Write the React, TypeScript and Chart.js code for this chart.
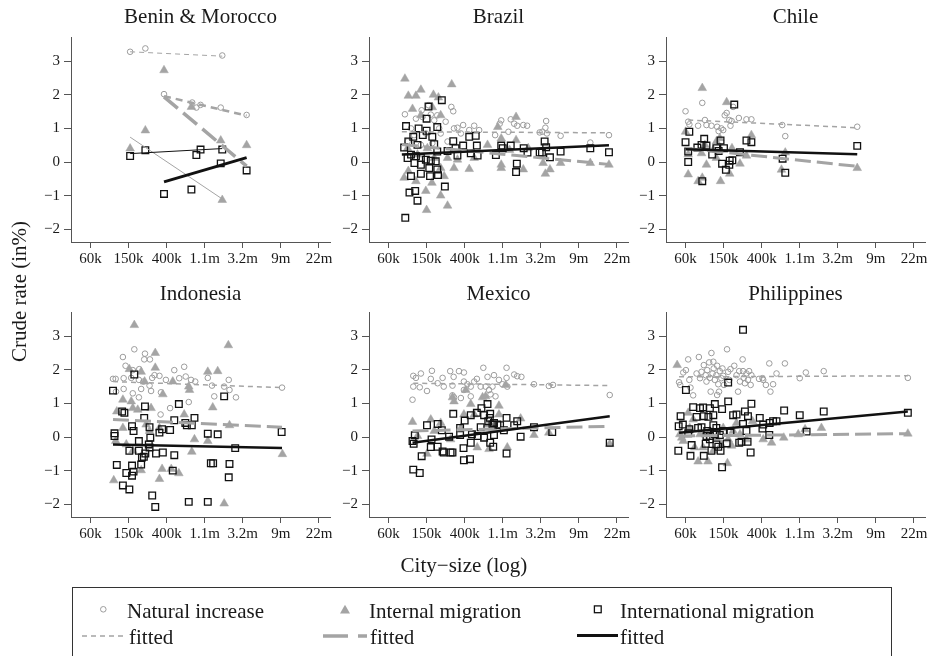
import React, { useEffect, useRef } from "react";
import { Chart, registerables } from "chart.js";
Chart.register(...registerables);

type P = [number, number];

// ---- axes ----
const xTickValues = [11, 12, 13, 14, 15, 16, 17];
const xTickLabels = ["60k", "150k", "400k", "1.1m", "3.2m", "9m", "22m"];
const yTickValues = [-2, -1, 0, 1, 2, 3];
const xRange = [10.487, 17.29];
const yRange = [-2.38, 3.72];

// ---- Benin & Morocco ----
const beninNatural: P[] = [[12.04, 3.28], [12.44, 3.38], [14.46, 3.17]];
const beninInternal: P[] = [[12.04, 0.40], [12.44, 0.94], [14.46, -1.13]];
const beninInternational: P[] = [[12.04, 0.18], [12.44, 0.35], [14.46, 0.37]];
const beninNaturalFit: P[] = [[12.04, 3.28], [14.46, 3.15]];
const beninInternalFit: P[] = [[12.04, 0.74], [14.46, -1.10]];
const beninInternationalFit: P[] = [[12.04, 0.25], [14.46, 0.40]];
const moroccoNatural: P[] = [[12.93, 2.02], [13.67, 1.77], [13.78, 1.62], [13.89, 1.70], [14.42, 1.62], [15.10, 1.40]];
const moroccoInternal: P[] = [[12.93, 2.73], [13.65, 1.64], [14.42, 0.64], [15.10, 0.50]];
const moroccoInternational: P[] = [[12.93, -0.95], [13.65, -0.82], [13.78, 0.21], [13.89, 0.37], [14.42, -0.04], [15.10, -0.25]];
const moroccoNaturalFit: P[] = [[12.93, 1.96], [15.10, 1.38]];
const moroccoInternalFit: P[] = [[12.93, 1.94], [15.10, -0.12]];
const moroccoInternationalFit: P[] = [[12.93, -0.59], [15.10, 0.13]];

// ---- Brazil ----
const brazilNatural: P[] = [[11.43, 1.42], [11.87, 1.54], [12.05, 1.69], [12.28, 1.39], [12.65, 1.64], [12.70, 1.51], [12.50, 1.20], [12.81, 1.02], [12.96, 1.10], [13.25, 1.08], [13.38, 0.95], [13.80, 0.80], [13.92, 1.14], [13.96, 1.24], [14.21, 1.27], [14.30, 1.14], [14.15, 0.90], [14.38, 1.08], [14.54, 1.10], [14.64, 1.08], [14.97, 0.88], [15.04, 0.90], [15.12, 1.02], [15.14, 1.22], [15.16, 0.85], [15.52, 0.78], [16.30, 0.58], [16.79, 0.80], [11.59, 1.00], [11.72, 1.29], [11.89, 1.34], [12.20, 1.24], [12.33, 1.00], [12.37, 0.85], [11.67, 0.80], [12.15, 0.56], [12.55, 0.61], [11.98, 0.85], [11.50, 0.61], [11.85, 0.51], [12.72, 1.00], [12.90, 0.85], [13.12, 0.95], [12.11, 1.41]];
const brazilInternal: P[] = [[11.43, 2.48], [11.52, 1.97], [11.72, 1.97], [11.85, 2.15], [12.18, 2.00], [12.31, 1.92], [12.66, 2.31], [11.63, 1.58], [11.85, 1.39], [12.37, 1.39], [12.15, 1.63], [11.41, -0.47], [11.52, -0.27], [11.72, -0.57], [11.98, -0.86], [12.00, -1.43], [12.37, -1.00], [12.55, -1.30], [12.14, -0.62], [12.46, -0.42], [12.72, -0.18], [13.12, -0.21], [12.81, 0.07], [13.25, 0.12], [13.87, 1.04], [13.96, -0.08], [13.96, -0.18], [14.35, 1.34], [14.35, 0.65], [14.54, -0.22], [14.67, 0.41], [15.06, -0.03], [15.12, -0.35], [15.24, -0.22], [15.52, -0.03], [16.30, -0.03], [16.79, -0.08], [11.50, 0.41], [11.76, 0.22], [12.02, 0.41], [12.20, 0.12], [12.55, 0.12], [12.37, -0.18], [13.96, 0.70], [13.60, 0.51], [14.18, 0.36]];
const brazilInternational: P[] = [[11.44, -1.66], [11.46, 1.07], [11.79, 1.00], [12.05, 1.65], [12.00, 1.29], [12.28, 1.04], [12.40, 1.84], [12.00, 0.93], [11.41, 0.43], [11.52, 0.61], [11.65, 0.75], [11.90, 0.80], [12.15, 0.75], [12.20, 0.53], [11.76, 0.51], [11.59, 0.22], [11.72, 0.17], [11.85, 0.12], [11.98, 0.07], [12.11, 0.04], [12.24, 0.02], [11.50, 0.12], [11.68, -0.03], [11.85, -0.08], [12.07, -0.18], [12.28, -0.22], [11.59, -0.42], [11.85, -0.35], [12.09, -0.42], [12.30, -0.39], [11.55, -0.91], [11.70, -0.86], [11.76, -1.15], [12.48, -0.73], [12.28, 0.31], [12.55, 0.33], [12.70, 0.62], [12.76, 0.41], [12.81, 0.19], [12.96, 0.49], [13.12, 0.75], [13.29, 0.78], [13.32, 0.49], [13.34, 0.19], [13.16, 0.26], [13.82, 0.21], [13.96, 0.49], [14.00, 0.41], [14.21, 0.49], [14.37, -0.05], [14.35, -0.30], [14.55, 0.41], [14.65, 0.28], [14.97, 0.28], [15.03, 0.28], [15.10, 0.61], [15.14, 0.44], [15.24, 0.14], [15.52, 0.31], [16.30, 0.41], [16.79, 0.29]];
const brazilNaturalFit: P[] = [[11.35, 0.90], [16.79, 0.87]];
const brazilInternalFit: P[] = [[11.35, 0.52], [16.79, -0.07]];
const brazilInternationalFit: P[] = [[11.35, 0.22], [16.79, 0.50]];

// ---- Chile ----
const chileNatural: P[] = [[11.00, 1.51], [11.07, 1.20], [11.10, 1.12], [11.44, 1.76], [11.33, 1.08], [11.51, 1.25], [11.55, 1.10], [11.68, 1.08], [11.83, 1.05], [11.87, 0.92], [11.94, 1.00], [11.99, 0.95], [12.03, 1.39], [12.08, 1.46], [12.15, 1.25], [12.21, 1.22], [12.25, 1.64], [12.40, 1.31], [12.60, 1.27], [12.73, 1.27], [13.54, 1.10], [13.62, 0.77], [15.51, 1.05], [12.18, 1.08]];
const chileInternal: P[] = [[11.44, 2.20], [12.08, 1.78], [11.00, 0.90], [11.07, -0.37], [11.33, -0.57], [11.44, -0.47], [11.55, -0.08], [11.51, 0.51], [11.07, 0.22], [11.42, 0.26], [11.73, 0.36], [11.81, 0.12], [11.92, -0.57], [12.16, -0.35], [12.22, 0.41], [12.43, -0.05], [12.60, 0.19], [12.73, 0.80], [13.52, -0.23], [13.62, 0.28], [15.51, -0.18], [11.81, 0.61], [11.90, 0.71]];
const chileInternational: P[] = [[11.00, 0.59], [11.10, 0.90], [11.07, 0.00], [11.07, 0.31], [11.31, 0.43], [11.44, -0.57], [11.49, 0.69], [11.55, 0.49], [11.42, 0.51], [11.70, 0.22], [11.81, 0.41], [11.92, 0.64], [11.87, 0.33], [12.01, 0.41], [11.96, -0.05], [12.06, -0.23], [12.15, -0.08], [12.16, 0.04], [12.23, 0.05], [12.28, 1.71], [12.43, 0.29], [12.60, 0.64], [12.73, 0.59], [13.55, 0.10], [13.62, -0.32], [15.51, 0.48]];
const chileNaturalFit: P[] = [[11.07, 1.25], [15.51, 1.02]];
const chileInternalFit: P[] = [[11.00, 0.41], [15.51, -0.13]];
const chileInternationalFit: P[] = [[11.00, 0.38], [15.51, 0.23]];

// ---- Indonesia ----
const indonesiaNatural: P[] = [[11.85, 2.38], [12.15, 2.61], [12.43, 2.48], [12.41, 2.31], [12.56, 2.31], [11.92, 2.12], [12.11, 1.99], [12.28, 2.02], [13.20, 1.99], [13.46, 2.09], [11.59, 1.73], [11.66, 1.73], [11.87, 1.75], [12.07, 1.76], [12.27, 1.70], [12.39, 1.65], [12.62, 1.76], [12.68, 1.84], [12.81, 1.82], [12.98, 1.70], [13.33, 1.75], [13.50, 1.80], [13.64, 1.70], [13.75, 1.65], [11.87, 1.43], [12.11, 1.30], [12.33, 1.43], [12.55, 1.53], [12.59, 1.37], [12.85, 1.33], [11.67, 1.35], [12.27, 1.18], [13.09, 0.86], [13.58, 1.04], [12.84, 0.67], [14.08, 1.76], [14.19, 1.53], [14.25, 1.21], [14.63, 1.70], [14.65, 1.40], [14.82, 1.18], [14.51, 1.50], [16.03, 1.47]];
const indonesiaInternal: P[] = [[12.15, 3.33], [12.70, 2.50], [14.62, 2.73], [12.70, 2.06], [12.02, 2.02], [12.33, 1.94], [14.08, 1.94], [14.34, 1.96], [12.42, 1.65], [13.16, 1.65], [13.58, 1.50], [13.60, 1.40], [12.90, 1.27], [11.85, 1.11], [12.07, 1.06], [12.11, 0.86], [11.69, 0.76], [12.24, 0.81], [12.59, 0.86], [14.21, 0.88], [13.46, 0.67], [12.46, 0.37], [11.85, 0.27], [12.81, 0.27], [13.73, -0.07], [14.08, -0.12], [14.65, 0.35], [16.04, -0.51], [13.66, -0.44], [12.88, -0.95], [13.12, -0.95], [13.32, -1.08], [12.81, -1.25], [12.33, -0.99], [11.61, -1.29], [14.51, -1.98], [11.66, -0.12], [11.94, -0.22], [12.11, -0.41], [12.55, 0.18]];
const indonesiaInternational: P[] = [[12.15, 1.86], [11.59, 1.38], [11.83, 0.76], [11.89, 0.72], [12.43, 0.91], [12.41, 0.57], [13.32, 0.98], [13.20, 0.50], [13.49, 0.42], [13.53, 0.35], [13.73, 0.57], [13.66, 0.35], [14.51, 1.21], [12.09, 0.32], [12.13, 0.18], [12.55, 0.29], [12.88, 0.23], [13.09, 0.21], [12.81, 0.13], [12.57, -0.02], [11.63, 0.11], [11.63, 0.03], [14.08, 0.10], [14.34, 0.08], [16.02, 0.15], [12.27, -0.12], [12.02, -0.41], [12.27, -0.41], [12.44, -0.49], [12.72, -0.49], [12.90, -0.46], [13.20, -0.54], [12.35, -0.61], [12.40, -0.59], [14.80, -0.33], [11.69, -0.83], [12.09, -0.85], [12.33, -0.82], [11.94, -1.07], [12.09, -1.15], [12.13, -1.03], [13.16, -1.00], [14.16, -0.78], [14.22, -0.78], [14.65, -0.80], [14.63, -1.20], [11.85, -1.44], [12.02, -1.56], [12.62, -1.74], [12.70, -2.08], [13.58, -1.93], [14.08, -1.93], [12.53, -0.22], [12.55, -0.31]];
const indonesiaNaturalFit: P[] = [[11.59, 1.65], [16.03, 1.47]];
const indonesiaInternalFit: P[] = [[11.59, 0.52], [16.03, 0.29]];
const indonesiaInternationalFit: P[] = [[11.59, -0.22], [16.03, -0.33]];

// ---- Mexico ----
const mexicoNatural: P[] = [[11.63, 1.11], [11.65, 1.50], [11.65, 1.82], [11.72, 1.76], [11.85, 1.89], [11.82, 1.48], [12.01, 1.37], [12.11, 1.73], [12.14, 1.97], [12.29, 1.60], [12.42, 1.76], [12.45, 1.50], [12.62, 1.96], [12.68, 1.53], [12.71, 1.79], [12.68, 1.24], [12.72, 1.18], [12.85, 1.96], [12.90, 1.16], [12.98, 1.92], [12.98, 1.65], [12.98, 1.40], [13.07, 1.57], [13.16, 1.50], [13.16, 1.21], [13.25, 1.65], [13.32, 1.73], [13.42, 1.50], [13.49, 2.06], [13.60, 1.79], [13.55, 1.50], [13.64, 1.40], [13.73, 1.50], [13.68, 1.27], [13.77, 1.84], [13.81, 1.21], [13.90, 1.70], [14.10, 2.06], [14.10, 1.76], [14.30, 1.86], [14.38, 1.81], [14.49, 1.79], [14.82, 1.57], [15.21, 1.52], [15.32, 1.55], [16.81, 1.25], [13.99, 1.57], [14.12, 1.50]];
const mexicoInternal: P[] = [[11.63, 0.45], [12.01, -0.50], [12.11, 0.52], [12.37, 0.42], [12.68, 1.18], [12.72, 1.06], [13.03, 1.40], [13.16, 0.98], [13.25, 0.67], [13.47, 1.18], [13.55, 1.21], [13.90, 0.93], [13.90, 0.67], [12.98, 0.67], [14.08, 1.55], [13.60, 0.37], [14.12, -0.31], [14.47, 0.55], [14.82, 0.06], [15.21, 0.13], [16.81, -0.21], [13.33, -0.31], [13.64, -0.36], [12.63, -0.07], [11.76, 0.03], [12.20, 0.18], [12.90, 0.27], [13.73, 0.27]];
const mexicoInternational: P[] = [[11.65, -0.97], [11.82, -1.07], [11.87, -0.57], [12.01, 0.35], [11.63, -0.12], [11.69, 0.05], [11.66, -0.20], [12.13, -0.07], [12.11, -0.30], [12.29, 0.39], [12.29, -0.29], [12.40, 0.20], [12.45, -0.46], [12.59, 0.01], [12.68, -0.46], [12.70, 0.69], [12.88, 0.27], [12.88, 0.06], [12.97, -0.33], [12.98, -0.69], [13.00, 0.49], [13.14, -0.66], [13.16, 0.65], [13.16, -0.17], [13.19, 0.08], [13.32, 0.72], [13.34, 0.03], [13.42, 0.29], [13.44, 0.86], [13.51, 0.65], [13.51, -0.02], [13.60, 0.98], [13.62, 0.47], [13.66, 0.57], [13.67, 0.69], [13.67, -0.17], [13.73, 0.37], [13.75, -0.29], [13.77, 0.42], [13.77, 0.06], [13.86, 0.37], [13.93, 0.35], [14.03, 0.20], [14.10, 0.57], [14.10, -0.49], [14.30, 0.35], [14.38, 0.47], [14.47, 0.01], [14.82, 0.29], [15.30, 0.15], [16.81, -0.17], [12.42, -0.43], [12.63, -0.46]];
const mexicoNaturalFit: P[] = [[11.65, 1.60], [16.81, 1.53]];
const mexicoInternalFit: P[] = [[11.63, 0.18], [16.81, 0.32]];
const mexicoInternationalFit: P[] = [[11.63, -0.17], [16.81, 0.62]];

// ---- Philippines ----
const philippinesNatural: P[] = [[10.83, 1.63], [10.86, 1.55], [10.94, 1.92], [11.01, 1.99], [11.07, 2.31], [11.10, 1.70], [11.13, 1.47], [11.20, 1.24], [11.29, 1.89], [11.35, 2.38], [11.42, 1.94], [11.48, 2.14], [11.53, 1.84], [11.57, 1.99], [11.62, 2.22], [11.68, 2.50], [11.64, 1.76], [11.71, 1.89], [11.73, 2.24], [11.74, 2.04], [11.77, 1.70], [11.81, 1.84], [11.83, 2.12], [11.86, 1.57], [11.88, 1.35], [11.90, 1.96], [11.94, 1.75], [11.97, 2.04], [11.99, 1.82], [12.01, 1.55], [12.09, 2.61], [12.12, 1.94], [12.15, 1.70], [12.18, 2.02], [12.28, 2.12], [12.34, 1.84], [12.38, 1.35], [12.41, 1.96], [12.43, 1.65], [12.50, 2.31], [12.51, 1.96], [12.53, 1.76], [12.56, 1.60], [12.60, 1.89], [12.64, 1.70], [12.67, 1.96], [12.71, 1.55], [12.73, 1.84], [12.93, 1.73], [13.02, 1.75], [13.04, 1.70], [13.11, 1.55], [13.20, 2.19], [13.23, 1.35], [13.30, 1.57], [13.39, 1.89], [13.61, 2.19], [14.00, 1.75], [14.16, 1.92], [14.63, 1.96], [16.84, 1.76], [11.66, 1.35], [11.83, 1.25], [11.38, 1.75], [11.55, 1.65]];
const philippinesInternal: P[] = [[10.78, 2.14], [11.07, 0.72], [10.85, 0.08], [10.94, -0.12], [11.11, 0.27], [11.24, -0.31], [11.33, -0.73], [11.59, -0.73], [11.46, -0.31], [11.73, -0.41], [11.94, -0.22], [12.10, -0.78], [12.12, -0.07], [12.21, -0.26], [12.34, 0.42], [12.43, 0.08], [12.60, -0.07], [12.76, 0.47], [13.04, -0.07], [13.26, -0.17], [13.58, -0.02], [13.96, 0.08], [14.14, 0.23], [14.57, 0.27], [16.84, 0.10], [11.38, 0.08], [11.64, 0.18], [11.81, -0.02], [11.99, 0.27], [12.25, 0.18], [11.20, 0.52], [10.90, -0.02]];
const philippinesInternational: P[] = [[12.51, 3.19], [11.01, 1.40], [12.12, 1.62], [12.12, 1.06], [12.73, 0.99], [11.20, 0.89], [10.87, 0.62], [10.81, -0.41], [11.13, -0.56], [11.29, 0.60], [11.38, 0.86], [11.46, 0.88], [11.64, 0.86], [11.77, 0.98], [11.96, 0.83], [11.48, 0.62], [11.60, 0.60], [11.73, 0.65], [10.82, 0.32], [10.93, 0.37], [11.07, 0.11], [11.10, 0.23], [11.16, -0.24], [11.33, 0.27], [11.42, 0.29], [11.48, -0.56], [11.53, -0.20], [11.57, 0.18], [11.64, 0.03], [11.68, -0.41], [11.73, 0.35], [11.77, 0.08], [11.81, -0.22], [11.86, -0.29], [11.90, 0.06], [11.92, -0.41], [11.96, -0.90], [11.99, 0.18], [12.08, -0.19], [12.18, 0.13], [12.25, 0.65], [12.34, 0.67], [12.41, -0.17], [12.47, -0.14], [12.51, 0.39], [12.56, 0.76], [12.60, 0.18], [12.63, -0.14], [12.64, 0.62], [12.71, -0.46], [12.95, 0.57], [13.02, 0.25], [13.04, 0.37], [13.20, 0.06], [13.21, 0.42], [13.30, 0.47], [13.39, 0.47], [13.59, 0.79], [14.00, 0.65], [14.18, 0.16], [14.63, 0.76], [16.84, 0.72], [11.55, 0.03], [11.64, -0.07], [11.81, 0.27]];
const philippinesNaturalFit: P[] = [[10.83, 1.79], [16.84, 1.82]];
const philippinesInternalFit: P[] = [[10.83, 0.03], [16.84, 0.10]];
const philippinesInternationalFit: P[] = [[10.83, 0.13], [16.84, 0.76]];

// ---- styles ----
const FONT = "'Liberation Serif', 'Times New Roman', Times, serif";
const GRAY = "#a4a4a4";
const CIRCLE_GRAY = "#9c9c9c";
const BLACK = "#111111";
const AXIS = "#555555";
const TEXT = "#1a1a1a";

type Kind = "natural" | "internal" | "international";
interface Fit { data: P[]; kind: Kind; width: number; dash: number[]; }
interface PanelCfg { title: string; natural: P[]; internal: P[]; international: P[]; fits: Fit[]; left: number; top: number; }

const natDash = [5, 4];
const intDash = [16, 6];

const panels: PanelCfg[] = [
  {
    title: "Benin & Morocco",
    natural: [...beninNatural, ...moroccoNatural],
    internal: [...beninInternal, ...moroccoInternal],
    international: [...beninInternational, ...moroccoInternational],
    fits: [
      { data: beninNaturalFit, kind: "natural", width: 1, dash: [5, 4] },
      { data: beninInternalFit, kind: "internal", width: 1, dash: [] },
      { data: beninInternationalFit, kind: "international", width: 1, dash: [] },
      { data: moroccoNaturalFit, kind: "natural", width: 2.5, dash: [7, 5] },
      { data: moroccoInternalFit, kind: "internal", width: 3.5, dash: [18, 7] },
      { data: moroccoInternationalFit, kind: "international", width: 3, dash: [] },
    ],
    left: 71, top: 34,
  },
  {
    title: "Brazil", natural: brazilNatural, internal: brazilInternal, international: brazilInternational,
    fits: [
      { data: brazilNaturalFit, kind: "natural", width: 1.5, dash: natDash },
      { data: brazilInternalFit, kind: "internal", width: 3, dash: intDash },
      { data: brazilInternationalFit, kind: "international", width: 2.5, dash: [] },
    ],
    left: 369, top: 34,
  },
  {
    title: "Chile", natural: chileNatural, internal: chileInternal, international: chileInternational,
    fits: [
      { data: chileNaturalFit, kind: "natural", width: 1.5, dash: natDash },
      { data: chileInternalFit, kind: "internal", width: 3, dash: intDash },
      { data: chileInternationalFit, kind: "international", width: 2.5, dash: [] },
    ],
    left: 666, top: 34,
  },
  {
    title: "Indonesia", natural: indonesiaNatural, internal: indonesiaInternal, international: indonesiaInternational,
    fits: [
      { data: indonesiaNaturalFit, kind: "natural", width: 1.5, dash: natDash },
      { data: indonesiaInternalFit, kind: "internal", width: 3, dash: intDash },
      { data: indonesiaInternationalFit, kind: "international", width: 2.5, dash: [] },
    ],
    left: 71, top: 309,
  },
  {
    title: "Mexico", natural: mexicoNatural, internal: mexicoInternal, international: mexicoInternational,
    fits: [
      { data: mexicoNaturalFit, kind: "natural", width: 1.5, dash: natDash },
      { data: mexicoInternalFit, kind: "internal", width: 3, dash: intDash },
      { data: mexicoInternationalFit, kind: "international", width: 2.5, dash: [] },
    ],
    left: 369, top: 309,
  },
  {
    title: "Philippines", natural: philippinesNatural, internal: philippinesInternal, international: philippinesInternational,
    fits: [
      { data: philippinesNaturalFit, kind: "natural", width: 1.5, dash: natDash },
      { data: philippinesInternalFit, kind: "internal", width: 3, dash: intDash },
      { data: philippinesInternationalFit, kind: "international", width: 2.5, dash: [] },
    ],
    left: 666, top: 309,
  },
];

const PLOT_W = 259;
const PLOT_H = 208;
const Y_AXIS_W = 62;
const X_AXIS_H = 32;
const PAD_TOP = 10;
const PAD_RIGHT = 14;

const pts = (a: P[]) => a.map(([x, y]) => ({ x, y }));
const fmtY = (v: number) => (v < 0 ? "\u2212" + Math.abs(v) : String(v));

function Panel({ cfg }: { cfg: PanelCfg }) {
  const ref = useRef<HTMLCanvasElement>(null);
  useEffect(() => {
    if (!ref.current) return;
    const fitOrder: Record<Kind, number> = { international: 1, internal: 2, natural: 3 };
    const fitColor: Record<Kind, string> = { international: BLACK, internal: GRAY, natural: GRAY };
    const datasets: any[] = [
      {
        label: "Natural increase", data: pts(cfg.natural), pointStyle: "circle", pointRadius: 2.8,
        borderColor: CIRCLE_GRAY, borderWidth: 1, backgroundColor: "rgba(255,255,255,0)", order: 6,
      },
      {
        label: "Internal migration", data: pts(cfg.internal), pointStyle: "triangle", pointRadius: 5,
        borderColor: GRAY, borderWidth: 0.5, backgroundColor: GRAY, order: 5,
      },
      {
        label: "International migration", data: pts(cfg.international), pointStyle: "rect", pointRadius: 4.7,
        borderColor: BLACK, borderWidth: 1.3, backgroundColor: "rgba(255,255,255,0)", order: 4,
      },
      ...cfg.fits.map((f) => ({
        label: "fitted", data: pts(f.data), showLine: true, pointRadius: 0, borderColor: fitColor[f.kind],
        borderWidth: f.width, borderDash: f.dash, fill: false, tension: 0, order: fitOrder[f.kind],
        borderCapStyle: "butt",
      })),
    ];
    const chart = new Chart(ref.current, {
      type: "scatter",
      data: { datasets },
      options: {
        animation: false,
        responsive: true,
        maintainAspectRatio: false,
        events: [],
        layout: { padding: { left: 0, top: PAD_TOP, right: PAD_RIGHT, bottom: 0 } },
        plugins: { legend: { display: false }, tooltip: { enabled: false }, title: { display: false } },
        scales: {
          x: {
            type: "linear",
            min: xRange[0],
            max: xRange[1],
            afterBuildTicks: (s: any) => { s.ticks = xTickValues.map((v) => ({ value: v })); },
            afterFit: (s: any) => { s.height = X_AXIS_H; },
            ticks: {
              autoSkip: false, maxRotation: 0, minRotation: 0, padding: 2, color: TEXT,
              font: { family: FONT, size: 15 },
              callback: (v: any) => xTickLabels[xTickValues.indexOf(Number(v))] ?? "",
            },
            grid: { display: true, drawOnChartArea: false, drawTicks: true, tickLength: 6, color: AXIS, lineWidth: 1 },
            border: { display: true, color: AXIS, width: 1 },
          },
          y: {
            type: "linear",
            min: yRange[0],
            max: yRange[1],
            afterBuildTicks: (s: any) => { s.ticks = yTickValues.map((v) => ({ value: v })); },
            afterFit: (s: any) => { s.width = Y_AXIS_W; },
            ticks: {
              padding: 4, color: TEXT, font: { family: FONT, size: 15 },
              callback: (v: any) => fmtY(Number(v)),
            },
            grid: { display: true, drawOnChartArea: false, drawTicks: true, tickLength: 7, color: AXIS, lineWidth: 1 },
            border: { display: true, color: AXIS, width: 1 },
          },
        },
      } as any,
    });
    return () => chart.destroy();
  }, [cfg]);
  return (
    <div
      style={{
        position: "absolute",
        left: cfg.left - Y_AXIS_W,
        top: cfg.top - PAD_TOP,
        width: Y_AXIS_W + PLOT_W + PAD_RIGHT,
        height: PAD_TOP + PLOT_H + X_AXIS_H,
      }}
    >
      <canvas ref={ref} />
    </div>
  );
}

const textStyle: React.CSSProperties = {
  position: "absolute",
  fontFamily: FONT,
  fontSize: 21,
  lineHeight: "21px",
  color: TEXT,
  whiteSpace: "nowrap",
};

export default function App() {
  return (
    <div style={{ position: "absolute", left: 0, top: 0, width: 929, height: 656, overflow: "hidden", background: "#fff" }}>
      {panels.map((p) => (
        <React.Fragment key={p.title}>
          <Panel cfg={p} />
          <div style={{ ...textStyle, left: p.left, width: PLOT_W, textAlign: "center", top: p.top === 34 ? 5.5 : 282.5 }}>
            {p.title}
          </div>
        </React.Fragment>
      ))}
      <div style={{ ...textStyle, left: 364, width: 200, textAlign: "center", top: 554.5 }}>City{"\u2212"}size (log)</div>
      <div
        style={{
          ...textStyle, left: 19 - 100, width: 200, textAlign: "center", top: 291.5 - 10.5,
          transform: "rotate(-90deg)", transformOrigin: "50% 50%",
        }}
      >
        Crude rate (in%)
      </div>
      <div
        style={{
          position: "absolute", left: 72, top: 587, width: 820, height: 110,
          border: "1.5px solid #333", boxSizing: "border-box",
        }}
      />
      <svg style={{ position: "absolute", left: 0, top: 0 }} width={929} height={656}>
        <circle cx={103.3} cy={609.3} r={2.8} fill="none" stroke={CIRCLE_GRAY} strokeWidth={1} />
        <polygon points="340,613.5 350,613.5 345,604.8" fill={GRAY} />
        <rect x={594.4} y={605.9} width={6.8} height={6.8} fill="none" stroke={BLACK} strokeWidth={1.3} />
        <line x1={82} y1={636} x2={125} y2={636} stroke={GRAY} strokeWidth={1.5} strokeDasharray="5 4" />
        <line x1={323} y1={636} x2={367} y2={636} stroke={GRAY} strokeWidth={3.5} strokeDasharray="25 10 9 10" />
        <line x1={577} y1={635.5} x2={618} y2={635.5} stroke={BLACK} strokeWidth={3} />
      </svg>
      <div style={{ ...textStyle, left: 127, top: 601.4 }}>Natural increase</div>
      <div style={{ ...textStyle, left: 369, top: 601.4 }}>Internal migration</div>
      <div style={{ ...textStyle, left: 620, top: 601.4 }}>International migration</div>
      <div style={{ ...textStyle, left: 129, top: 627.4 }}>fitted</div>
      <div style={{ ...textStyle, left: 370, top: 627.4 }}>fitted</div>
      <div style={{ ...textStyle, left: 620, top: 627.4 }}>fitted</div>
    </div>
  );
}
